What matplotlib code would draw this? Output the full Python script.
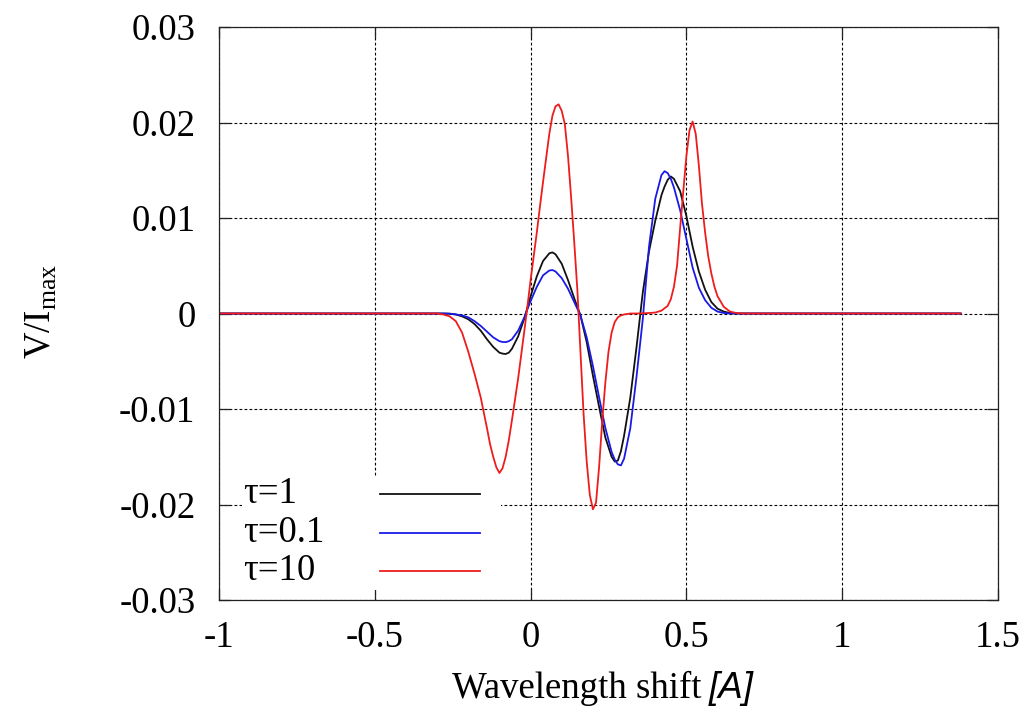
import matplotlib
matplotlib.use("Agg")
import matplotlib.pyplot as plt
from matplotlib.patches import Rectangle

# Stokes V profiles for three optical depths
x_tau1 = [-1.0, -0.30, -0.28, -0.26, -0.24, -0.22, -0.20, -0.18, -0.16, -0.14,
          -0.12, -0.10, -0.09, -0.08, -0.07, -0.06, -0.04, -0.02, 0.00, 0.02,
          0.04, 0.06, 0.07, 0.08, 0.10, 0.12, 0.14, 0.16, 0.18, 0.20,
          0.22, 0.24, 0.26, 0.27, 0.28, 0.29, 0.30, 0.32, 0.34, 0.36,
          0.38, 0.40, 0.42, 0.43, 0.44, 0.45, 0.46, 0.48, 0.50, 0.52,
          0.54, 0.56, 0.58, 0.60, 0.62, 0.64, 0.66, 0.70, 1.38]
v_tau1 = [0, 0, 0, -0.00002, -0.0001, -0.0003, -0.0006, -0.0011, -0.0018, -0.0027,
          -0.0035, -0.0041, -0.0042, -0.00424, -0.0041, -0.0037, -0.0024, -0.0005, 0.0018, 0.0039,
          0.0055, 0.0063, 0.0064, 0.0062, 0.0052, 0.0035, 0.0016, -0.0002, -0.0030, -0.0065,
          -0.0098, -0.0130, -0.0150, -0.0155, -0.0154, -0.0144, -0.0128, -0.0088, -0.0035, 0.0022,
          0.0065, 0.0097, 0.0124, 0.0133, 0.0140, 0.01435, 0.0141, 0.0128, 0.0102, 0.0070,
          0.0044, 0.0025, 0.0012, 0.0005, 0.0002, 0.00005, 0, 0, 0]

x_tau01 = x_tau1
v_tau01 = [0, 0, 0, -0.00002, -0.0001, -0.0002, -0.0004, -0.0008, -0.0013, -0.0019,
           -0.0025, -0.0029, -0.00298, -0.0030, -0.0029, -0.0027, -0.0018, -0.0004, 0.0013, 0.0028,
           0.0040, 0.0045, 0.00455, 0.0044, 0.0037, 0.0026, 0.0012, -0.0002, -0.0025, -0.0055,
           -0.0088, -0.0120, -0.0145, -0.0153, -0.0158, -0.0159, -0.0152, -0.0120, -0.0066, -0.0006,
           0.0070, 0.0120, 0.0145, 0.0149, 0.0147, 0.0141, 0.0132, 0.0108, 0.0078, 0.0048,
           0.0027, 0.0014, 0.0006, 0.0002, 0.00005, 0, 0, 0, 0]

x_tau10 = [-1.0, -0.30, -0.28, -0.26, -0.24, -0.22, -0.20, -0.18, -0.16, -0.14,
           -0.13, -0.12, -0.11, -0.10, -0.09, -0.08, -0.07, -0.06, -0.04, -0.02,
           -0.01, 0.00, 0.01, 0.02, 0.03, 0.04, 0.05, 0.06, 0.07, 0.08,
           0.09, 0.10, 0.11, 0.12, 0.13, 0.14, 0.15, 0.16, 0.17, 0.18,
           0.19, 0.20, 0.21, 0.22, 0.23, 0.24, 0.25, 0.26, 0.27, 0.28,
           0.29, 0.30, 0.32, 0.34, 0.36, 0.38, 0.40, 0.42, 0.44, 0.45,
           0.46, 0.47, 0.48, 0.49, 0.50, 0.51, 0.52, 0.53, 0.54, 0.55,
           0.56, 0.57, 0.58, 0.59, 0.60, 0.62, 0.64, 0.66, 0.68, 1.38]
v_tau10 = [0, 0, -0.0001, -0.0003, -0.0008, -0.0020, -0.0040, -0.0063, -0.0088, -0.0120,
           -0.0137, -0.0150, -0.0161, -0.0167, -0.0162, -0.0150, -0.0133, -0.0112, -0.0068, -0.0018,
           0.0008, 0.0035, 0.0060, 0.0085, 0.0112, 0.0138, 0.0163, 0.0188, 0.0207, 0.0217,
           0.0219, 0.0212, 0.0198, 0.0165, 0.0122, 0.0075, 0.0025, -0.0040, -0.0105, -0.0155,
           -0.0190, -0.0205, -0.0198, -0.0160, -0.0112, -0.0072, -0.0040, -0.0020, -0.0009, -0.0004,
           -0.0002, -0.0001, 0, 0, 0.00002, 0.00005, 0.0001, 0.0003, 0.0008, 0.0015,
           0.0028, 0.0050, 0.0090, 0.0128, 0.0165, 0.0192, 0.0201, 0.0188, 0.0155, 0.0115,
           0.0085, 0.0060, 0.0042, 0.0028, 0.0018, 0.0007, 0.0002, 0.00005, 0, 0]

labels = ["\u03c4=1", "\u03c4=0.1", "\u03c4=10"]
colors = ["#111111", "#1a1ae6", "#ee1c1c"]

xticks = [-1, -0.5, 0, 0.5, 1, 1.5]
xticklabels = ["-1", "-0.5", "0", "0.5", "1", "1.5"]
yticks = [-0.03, -0.02, -0.01, 0, 0.01, 0.02, 0.03]
yticklabels = ["-0.03", "-0.02", "-0.01", "0", "0.01", "0.02", "0.03"]

FS = 26.5
plt.rcParams['font.family'] = ['Liberation Serif', 'DejaVu Serif']
plt.rcParams['mathtext.fontset'] = 'custom'
plt.rcParams['mathtext.rm'] = 'Liberation Serif'

W, H = 1033, 717
fig = plt.figure(figsize=(W / 100, H / 100), dpi=100)
ax = fig.add_axes([219 / W, (H - 600) / H, 779 / W, 573 / H])

series = [(x_tau1, v_tau1), (x_tau01, v_tau01), (x_tau10, v_tau10)]
for (xs, vs), c in zip(series, colors):
    ax.plot(xs, vs, color=c, lw=1.3, zorder=2)

ax.set_xlim(-1, 1.5)
ax.set_ylim(-0.03, 0.03)
ax.set_xticks(xticks)
ax.set_xticklabels(xticklabels)
ax.set_yticks(yticks)
ax.set_yticklabels(yticklabels)
ax.tick_params(direction='in', length=8, width=0.9, top=True, right=True,
               labelsize=FS, color='#222222')
ax.tick_params(axis='x', pad=15)
ax.tick_params(axis='y', pad=17)
ax.grid(True, color='black', lw=0.8, linestyle=(0, (2.5, 2)))
ax.set_axisbelow('line')
for sp in ax.spines.values():
    sp.set_linewidth(0.9)
    sp.set_color('#222222')

# gnuplot-like key: white box, text on the left, sample line on the right
ax.add_patch(Rectangle((0.030, 0.018), 0.332, 0.197, transform=ax.transAxes,
                       facecolor='white', edgecolor='none', zorder=1.8))
key_y = [0.185, 0.117, 0.0506]
for lab, c, ky in zip(labels, colors, key_y):
    ax.text(0.031, ky, lab, transform=ax.transAxes, ha='left', va='center',
            fontsize=FS, zorder=3)
    ax.plot([0.2067, 0.335], [ky, ky], transform=ax.transAxes, color=c,
            lw=1.3, zorder=3)

fig.text(702 / W, 1 - 698 / H, "Wavelength shift", ha='right', va='baseline',
         fontsize=FS)
fig.text(709 / W, 1 - 698 / H, "[A]", ha='left', va='baseline', fontsize=FS,
         family='Liberation Sans', style='italic')
fig.text(41 / W, 1 - 311.5 / H, r"V/I$_{\mathrm{max}}$", rotation=90,
         ha='center', va='center', fontsize=FS)

fig.savefig("out.png", dpi=100)
